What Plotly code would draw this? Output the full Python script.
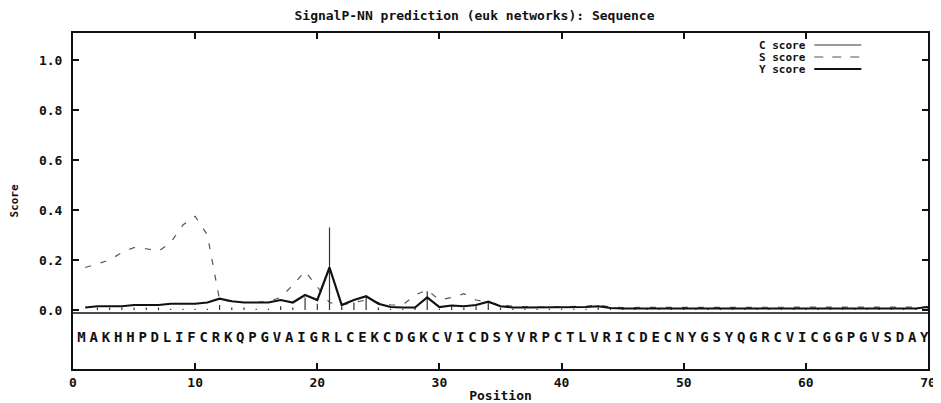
import plotly.graph_objects as go

sequence = "MAKHHPDLIFCRKQPGVAIGRLCEKCDGKCVICDSYVRPCTLVRICDECNYGSYQGRCVICGGPGVSDAY"
positions = list(range(1, 71))

c_score = [0.0, 0.01, 0.01, 0.01, 0.01, 0.01, 0.01, 0.005, 0.005, 0.005,
           0.005, 0.02, 0.01, 0.01, 0.005, 0.005, 0.015, 0.01, 0.05, 0.025,
           0.33, 0.015, 0.03, 0.055, 0.01, 0.005, 0.005, 0.01, 0.075, 0.005,
           0.02, 0.01, 0.015, 0.035, 0.01, 0.005, 0.005, 0.005, 0.005, 0.005,
           0.005, 0.005, 0.01, 0.005, 0.004, 0.004, 0.004, 0.004, 0.004, 0.004,
           0.004, 0.004, 0.004, 0.004, 0.004, 0.004, 0.004, 0.004, 0.004, 0.004,
           0.004, 0.004, 0.004, 0.004, 0.004, 0.004, 0.004, 0.004, 0.004, 0.01]

s_score = [0.17, 0.185, 0.20, 0.23, 0.25, 0.245, 0.235, 0.27, 0.34, 0.375,
           0.30, 0.04, 0.035, 0.03, 0.03, 0.035, 0.05, 0.10, 0.155, 0.09,
           0.03, 0.02, 0.03, 0.04, 0.03, 0.02, 0.02, 0.06, 0.08, 0.04,
           0.05, 0.065, 0.04, 0.03, 0.02, 0.015, 0.012, 0.012, 0.012, 0.012,
           0.012, 0.015, 0.02, 0.012, 0.01, 0.01, 0.01, 0.01, 0.01, 0.01,
           0.01, 0.01, 0.01, 0.01, 0.01, 0.01, 0.01, 0.01, 0.01, 0.01,
           0.01, 0.01, 0.01, 0.01, 0.01, 0.01, 0.01, 0.01, 0.01, 0.012]

y_score = [0.01, 0.015, 0.015, 0.015, 0.02, 0.02, 0.02, 0.025, 0.025, 0.025,
           0.03, 0.045, 0.035, 0.03, 0.03, 0.03, 0.04, 0.03, 0.06, 0.04,
           0.17, 0.02, 0.04, 0.055, 0.025, 0.012, 0.01, 0.01, 0.05, 0.012,
           0.018, 0.015, 0.02, 0.033, 0.015, 0.01, 0.01, 0.01, 0.01, 0.01,
           0.01, 0.012, 0.015, 0.008, 0.006, 0.006, 0.006, 0.006, 0.006, 0.006,
           0.006, 0.006, 0.006, 0.006, 0.006, 0.006, 0.006, 0.006, 0.006, 0.006,
           0.006, 0.006, 0.006, 0.006, 0.006, 0.006, 0.006, 0.006, 0.006, 0.012]

x_ticks = [0, 10, 20, 30, 40, 50, 60, 70]
y_ticks = [0.0, 0.2, 0.4, 0.6, 0.8, 1.0]
y_tick_labels = ["0.0", "0.2", "0.4", "0.6", "0.8", "1.0"]

MONO = "DejaVu Sans Mono"

fig = go.Figure()

# C score impulses
cx, cy = [], []
for p, v in zip(positions, c_score):
    cx += [p, p, None]
    cy += [0, v, None]
fig.add_trace(go.Scatter(x=cx, y=cy, mode="lines", name="C score",
                         line=dict(color="#333333", width=1.2), showlegend=False))

fig.add_trace(go.Scatter(x=positions, y=s_score, mode="lines", name="S score",
                         line=dict(color="#555555", width=1.2, dash="6px,10px"),
                         showlegend=False))

fig.add_trace(go.Scatter(x=positions, y=y_score, mode="lines", name="Y score",
                         line=dict(color="#111111", width=2.2), showlegend=False))

# sequence letters
fig.add_trace(go.Scatter(x=[p - 0.3 for p in positions], y=[-0.115] * len(positions),
                         mode="text", text=list(sequence), cliponaxis=True,
                         textfont=dict(family=MONO, size=14, color="#111111", weight="bold"),
                         showlegend=False, hoverinfo="skip"))

# baseline separator
fig.add_shape(type="line", xref="x", yref="y", x0=0, x1=70, y0=-0.012, y1=-0.012,
              line=dict(color="#111111", width=1.5))

# legend (text left of line sample)
leg = [("C score", dict(color="#333333", width=1.2)),
       ("S score", dict(color="#555555", width=1.2, dash="dash")),
       ("Y score", dict(color="#111111", width=2.2))]
for i, (lab, ln) in enumerate(leg):
    yy = 1.0 + 0.06 - i * 0.048
    fig.add_annotation(x=0.86, y=yy, xref="paper", yref="y", text=lab, showarrow=False,
                       xanchor="right", yanchor="middle",
                       font=dict(family=MONO, size=11, color="#111111", weight="bold"))
    fig.add_shape(type="line", xref="paper", yref="y", x0=0.867, x1=0.922, y0=yy, y1=yy, line=ln)

fig.update_layout(
    width=933, height=395,
    margin=dict(l=65, r=13, t=25, b=34, autoexpand=False),
    paper_bgcolor="white", plot_bgcolor="white",
    title=dict(text="SignalP-NN prediction (euk networks): Sequence", x=0.5, xanchor="center",
               y=0.982, yanchor="middle", automargin=False,
               font=dict(family=MONO, size=13, color="#111111", weight="bold")),
    font=dict(family=MONO, color="#111111"),
)

fig.update_xaxes(range=[0, 70], tickvals=x_ticks, ticktext=[str(t) for t in x_ticks],
                 ticks="inside", ticklen=6, tickwidth=2, tickcolor="#111111",
                 showline=True, linewidth=2, linecolor="#111111", mirror="ticks",
                 showgrid=False, zeroline=False, automargin=False,
                 tickfont=dict(family=MONO, size=13, weight="bold"),
                 title=dict(text="Position", standoff=2,
                            font=dict(family=MONO, size=13, weight="bold")))

fig.update_yaxes(range=[-0.236, 1.108], tickvals=y_ticks, ticktext=y_tick_labels,
                 ticks="inside", ticklen=6, tickwidth=2, tickcolor="#111111",
                 showline=True, linewidth=2, linecolor="#111111", mirror="ticks",
                 showgrid=False, zeroline=False, automargin=False, ticklabelstandoff=6,
                 tickfont=dict(family=MONO, size=13, weight="bold"),
                 title=dict(text="Score", standoff=22,
                            font=dict(family=MONO, size=11, weight="bold")))

fig.write_html("out.html")
